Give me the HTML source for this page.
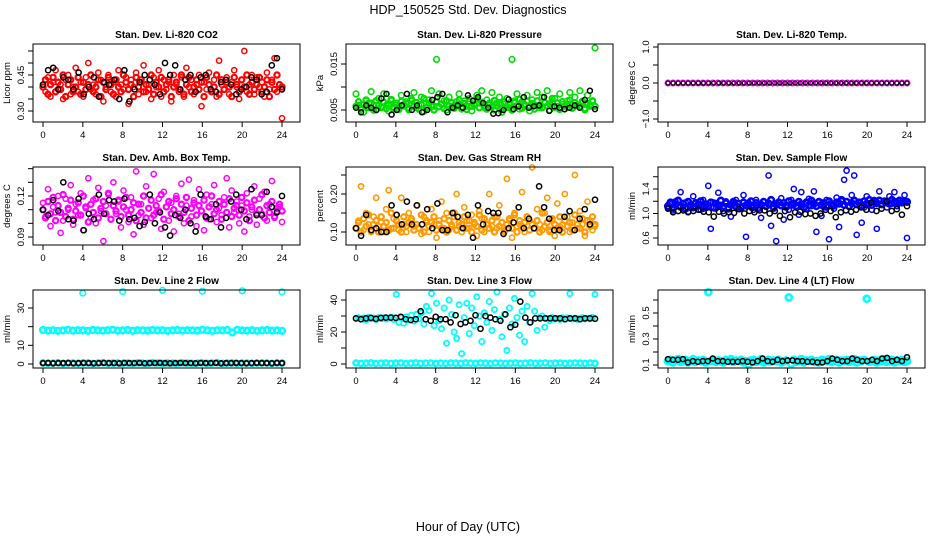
<!DOCTYPE html>
<html><head><meta charset="utf-8"><style>
html,body{margin:0;padding:0;background:#fff;}
svg{display:block;font-family:"Liberation Sans",Arial,sans-serif;}
</style></head><body>
<svg id="chart" width="936" height="540" viewBox="0 0 936 540" xmlns="http://www.w3.org/2000/svg">
<rect x="0" y="0" width="936" height="540" fill="#fff"/>
<text x="468" y="14" font-size="12.5" text-anchor="middle">HDP_150525  Std. Dev. Diagnostics</text>
<text x="468" y="531" font-size="12.5" text-anchor="middle">Hour of Day (UTC)</text>
</svg>
<script>
const xTicks = [0,4,8,12,16,20,24];
const xTickLabels = ["0","4","8","12","16","20","24"];

const co2Red = [0.40,0.38,0.44,0.36,0.42,0.47,0.39,0.41,0.35,0.43,0.45,0.37,0.40,0.48,0.38,0.42,0.36,0.44,0.50,0.39,0.41,0.37,0.46,0.43,0.34,0.40,0.45,0.38,0.42,0.36,0.47,0.41,0.39,0.44,0.33,0.43,0.40,0.46,0.37,0.42,0.49,0.38,0.41,0.35,0.44,0.40,0.47,0.36,0.43,0.39,0.42,0.34,0.45,0.41,0.38,0.44,0.36,0.48,0.40,0.43,0.37,0.41,0.45,0.32,0.42,0.39,0.46,0.38,0.43,0.36,0.51,0.41,0.39,0.44,0.37,0.42,0.47,0.40,0.35,0.43,0.55,0.38,0.41,0.45,0.37,0.44,0.40,0.42,0.36,0.46,0.39,0.43,0.52,0.38,0.41,0.27];
const co2RedDense = [0.40,0.43,0.37,0.41,0.44,0.38,0.42,0.39,0.45,0.36,0.41,0.43,0.38,0.40,0.44,0.37,0.42,0.39,0.41,0.45,0.38,0.40,0.43,0.36,0.42,0.39,0.44,0.41,0.37,0.43,0.40,0.38,0.45,0.42,0.39,0.41,0.36,0.44,0.40,0.43,0.38,0.41,0.39,0.45,0.37,0.42,0.40,0.44,0.38,0.41,0.43,0.36,0.40,0.42,0.39,0.45,0.37,0.41,0.44,0.38,0.40,0.43,0.39,0.42,0.36,0.44,0.41,0.38,0.40,0.45,0.37,0.43,0.39,0.42,0.40,0.36,0.44,0.41,0.38,0.43,0.40,0.45,0.37,0.42,0.39,0.41,0.44,0.38,0.40,0.43,0.36,0.42,0.39,0.45,0.41,0.40];
const co2Black = [0.41,0.47,0.48,0.39,0.44,0.43,0.39,0.46,0.37,0.40,0.44,0.36,0.42,0.41,0.43,0.35,0.47,0.34,0.39,0.42,0.45,0.43,0.41,0.37,0.50,0.45,0.49,0.39,0.43,0.45,0.38,0.44,0.45,0.39,0.38,0.42,0.43,0.41,0.37,0.39,0.40,0.44,0.43,0.37,0.38,0.49,0.52,0.39];

const presGreen = [0.0085,0.006,0.0055,0.0045,0.007,0.0065,0.009,0.006,0.005,0.0075,0.0055,0.0085,0.006,0.0048,0.007,0.0052,0.0065,0.0058,0.0082,0.0062,0.0068,0.005,0.0075,0.0088,0.0055,0.006,0.0078,0.0047,0.0065,0.0072,0.0092,0.0058,0.016,0.0085,0.0062,0.007,0.005,0.0078,0.0055,0.006,0.0068,0.0085,0.0052,0.007,0.0058,0.0075,0.0048,0.006,0.0082,0.0065,0.0092,0.0055,0.0072,0.006,0.0088,0.005,0.0065,0.0078,0.0045,0.0062,0.0075,0.0055,0.016,0.007,0.0085,0.0052,0.0068,0.0058,0.0082,0.0048,0.0072,0.006,0.0088,0.0055,0.0078,0.0065,0.0092,0.005,0.0068,0.0075,0.0058,0.0085,0.0062,0.0052,0.007,0.0088,0.0055,0.0078,0.006,0.0092,0.0065,0.005,0.0082,0.0058,0.0068,0.0185];
const presGreenDense = [0.0058,0.0068,0.0052,0.0062,0.0072,0.0055,0.0065,0.0050,0.0070,0.0060,0.0057,0.0067,0.0053,0.0063,0.0073,0.0056,0.0061,0.0051,0.0069,0.0059,0.0064,0.0054,0.0071,0.0058,0.0066,0.0052,0.0062,0.0075,0.0055,0.0065,0.0060,0.0050,0.0068,0.0057,0.0063,0.0053,0.0070,0.0059,0.0066,0.0054,0.0061,0.0072,0.0056,0.0064,0.0051,0.0069,0.0058,0.0062,0.0074,0.0055,0.0067,0.0060,0.0052,0.0065,0.0057,0.0071,0.0059,0.0063,0.0053,0.0068,0.0056,0.0061,0.0050,0.0066,0.0058,0.0073,0.0054,0.0062,0.0069,0.0057,0.0064,0.0052,0.0070,0.0060,0.0055,0.0067,0.0059,0.0063,0.0075,0.0056,0.0065,0.0051,0.0068,0.0058,0.0062,0.0072,0.0054,0.0066,0.0060,0.0057,0.0069,0.0053,0.0064,0.0061,0.0070,0.0058];
const presBlack = [0.0055,0.0045,0.006,0.0055,0.005,0.0075,0.0085,0.004,0.005,0.006,0.0085,0.005,0.006,0.0045,0.005,0.0072,0.0078,0.0085,0.0045,0.0055,0.006,0.0055,0.0082,0.007,0.0078,0.0065,0.0055,0.0042,0.0043,0.005,0.0073,0.0052,0.0058,0.0078,0.0055,0.0058,0.006,0.0078,0.0048,0.0058,0.0055,0.0052,0.0055,0.006,0.0055,0.0072,0.0092,0.0052];

const tempMagenta = [0,0,0,0,0,0,0,0,0,0,0,0,0,0,0,0,0,0,0,0,0,0,0,0,0,0,0,0,0,0,0,0,0,0,0,0,0,0,0,0,0,0,0,0,0,0,0,0,0];
const tempBlack = [0,0,0,0,0,0,0,0,0,0,0,0,0,0,0,0,0,0,0,0,0,0,0,0,0,0,0,0,0,0,0,0,0,0,0,0,0,0,0,0,0,0,0,0,0,0,0,0];

const ambMagenta = [0.115,0.105,0.125,0.098,0.112,0.108,0.120,0.093,0.102,0.118,0.110,0.128,0.099,0.114,0.106,0.122,0.095,0.111,0.133,0.104,0.117,0.100,0.126,0.109,0.087,0.113,0.121,0.103,0.130,0.107,0.116,0.097,0.124,0.110,0.101,0.119,0.092,0.138,0.106,0.114,0.099,0.127,0.111,0.104,0.136,0.108,0.118,0.096,0.123,0.112,0.102,0.115,0.094,0.120,0.107,0.129,0.100,0.113,0.132,0.105,0.117,0.098,0.125,0.109,0.095,0.121,0.103,0.114,0.128,0.101,0.111,0.106,0.119,0.133,0.097,0.124,0.108,0.116,0.100,0.113,0.094,0.122,0.105,0.110,0.127,0.099,0.118,0.107,0.123,0.102,0.114,0.131,0.104,0.109,0.112,0.101];
const ambMagentaDense = [0.110,0.104,0.116,0.107,0.119,0.102,0.113,0.108,0.121,0.105,0.111,0.117,0.103,0.109,0.115,0.106,0.120,0.112,0.101,0.114,0.108,0.118,0.104,0.111,0.116,0.107,0.122,0.103,0.113,0.109,0.117,0.105,0.112,0.119,0.106,0.110,0.115,0.102,0.114,0.108,0.120,0.104,0.111,0.117,0.106,0.113,0.109,0.121,0.103,0.112,0.116,0.107,0.110,0.118,0.105,0.114,0.108,0.119,0.102,0.111,0.115,0.106,0.113,0.109,0.117,0.104,0.112,0.120,0.107,0.110,0.116,0.103,0.114,0.108,0.118,0.105,0.111,0.113,0.106,0.119,0.109,0.115,0.102,0.112,0.117,0.107,0.110,0.121,0.104,0.113,0.108,0.116,0.105,0.111,0.114,0.109];
const ambBlack = [0.110,0.106,0.117,0.109,0.130,0.103,0.102,0.118,0.095,0.107,0.103,0.121,0.107,0.117,0.116,0.102,0.118,0.103,0.104,0.098,0.101,0.121,0.100,0.108,0.097,0.091,0.106,0.104,0.110,0.100,0.094,0.121,0.105,0.103,0.114,0.097,0.104,0.116,0.121,0.110,0.103,0.125,0.106,0.106,0.123,0.112,0.108,0.120];

const rhOrange = [0.11,0.13,0.22,0.105,0.15,0.12,0.10,0.14,0.19,0.115,0.125,0.10,0.16,0.21,0.11,0.135,0.145,0.105,0.19,0.12,0.10,0.15,0.13,0.115,0.17,0.11,0.095,0.14,0.125,0.10,0.16,0.12,0.085,0.13,0.18,0.11,0.15,0.105,0.12,0.14,0.20,0.115,0.10,0.165,0.13,0.11,0.145,0.12,0.09,0.155,0.135,0.10,0.12,0.20,0.115,0.14,0.11,0.17,0.125,0.10,0.24,0.13,0.085,0.15,0.115,0.12,0.205,0.10,0.14,0.13,0.27,0.11,0.16,0.12,0.105,0.15,0.19,0.10,0.13,0.09,0.175,0.115,0.12,0.20,0.14,0.10,0.125,0.25,0.11,0.155,0.12,0.09,0.18,0.13,0.105,0.115];
const rhOrangeDense = [0.11,0.125,0.10,0.135,0.115,0.145,0.105,0.12,0.13,0.10,0.14,0.115,0.125,0.105,0.15,0.11,0.13,0.12,0.10,0.14,0.115,0.125,0.135,0.105,0.12,0.11,0.145,0.10,0.13,0.115,0.125,0.14,0.105,0.12,0.11,0.135,0.10,0.13,0.115,0.15,0.105,0.125,0.12,0.14,0.11,0.13,0.10,0.125,0.115,0.145,0.105,0.135,0.12,0.11,0.13,0.10,0.14,0.115,0.125,0.105,0.12,0.135,0.11,0.145,0.10,0.13,0.115,0.125,0.14,0.105,0.12,0.11,0.13,0.10,0.15,0.115,0.125,0.105,0.135,0.12,0.11,0.14,0.10,0.13,0.115,0.125,0.105,0.145,0.12,0.11,0.135,0.10,0.13,0.115,0.14,0.12];
const rhBlack = [0.11,0.09,0.145,0.105,0.11,0.10,0.10,0.17,0.145,0.12,0.18,0.12,0.17,0.12,0.16,0.11,0.175,0.105,0.105,0.15,0.14,0.11,0.145,0.085,0.17,0.12,0.155,0.15,0.15,0.095,0.11,0.125,0.165,0.11,0.135,0.11,0.22,0.165,0.135,0.105,0.105,0.14,0.155,0.105,0.135,0.16,0.12,0.185];

const flowBlue = [1.10,1.15,1.05,1.20,1.12,1.35,1.08,1.18,1.02,1.14,1.28,1.10,1.16,1.06,1.22,1.12,1.45,0.75,1.18,1.08,1.34,1.14,1.04,1.20,1.10,0.95,1.16,1.22,1.08,1.12,1.30,0.62,1.18,1.10,1.06,1.22,1.14,0.93,1.20,1.12,1.62,0.80,1.08,0.55,1.18,1.25,0.90,1.14,1.06,1.22,1.40,1.10,0.98,1.35,1.16,1.08,1.24,1.12,1.36,0.70,1.18,0.96,1.10,1.22,0.58,1.14,1.08,1.26,0.78,1.20,1.55,1.70,1.12,1.30,1.62,0.65,1.18,0.85,1.10,1.28,1.16,1.06,1.22,0.75,1.36,1.14,1.20,1.10,1.28,1.16,1.35,1.12,1.22,1.18,1.30,0.60];
const flowBlueBand = [1.12,1.18,1.09,1.15,1.21,1.11,1.16,1.08,1.19,1.13,1.10,1.17,1.14,1.20,1.09,1.15,1.12,1.18,1.10,1.16,1.13,1.21,1.11,1.17,1.08,1.14,1.19,1.12,1.16,1.10,1.18,1.13,1.15,1.20,1.11,1.17,1.09,1.14,1.19,1.12,1.16,1.22,1.10,1.15,1.18,1.13,1.17,1.11,1.20,1.14,1.16,1.12,1.19,1.15,1.10,1.18,1.13,1.21,1.16,1.12,1.19,1.14,1.17,1.11,1.20,1.15,1.13,1.18,1.16,1.22,1.14,1.19,1.12,1.17,1.21,1.15,1.18,1.13,1.20,1.16,1.22,1.14,1.19,1.17,1.21,1.15,1.20,1.18,1.16,1.22,1.19,1.17,1.21,1.18,1.20,1.19];
const flowBlack = [1.08,1.02,1.04,1.05,1.03,1.04,1.06,1.03,1.02,0.95,1.03,1.00,1.02,1.01,1.07,1.00,1.04,1.02,1.05,1.05,1.00,1.04,0.96,1.04,0.94,1.02,1.03,0.99,1.00,0.96,1.00,1.06,1.04,0.94,1.02,1.05,1.03,1.06,1.10,1.06,1.18,1.04,1.08,1.20,1.04,1.07,0.98,1.12];

const line2Cyan = [18.2,17.9,18.1,17.8,18.0,18.3,17.9,18.1,18.0,17.8,18.2,18.0,17.9,18.1,18.3,17.9,18.0,18.2,17.8,18.1,18.0,17.9,18.2,18.0,18.1,17.8,18.0,18.2,17.9,18.1,18.0,17.9,18.3,18.0,17.8,18.1,18.0,18.2,16.9,18.3,18.0,17.9,18.1,17.8,18.0,18.2,17.9,18.0,17.8];
const line2CyanLow = [0.6,0.4,0.5,0.7,0.3,0.5,0.6,0.4,0.5,0.6,0.3,0.5,0.7,0.4,0.5,0.6,0.4,0.5,0.3,0.6,0.5,0.4,0.7,0.5,0.4,0.6,0.5,0.3,0.6,0.5,0.4,0.5,0.6,0.4,0.5,0.7,0.4,0.5,0.6,0.3,0.5,0.6,0.4,0.5,0.6,0.5,0.4,0.6,0.5];
const line2Black = [0.5,0.6,0.4,0.5,0.5,0.6,0.4,0.5,0.6,0.5,0.4,0.5,0.6,0.5,0.5,0.4,0.6,0.5,0.5,0.6,0.4,0.5,0.5,0.6,0.5,0.4,0.5,0.6,0.5,0.5,0.4,0.6,0.5,0.5,0.6,0.4,0.5,0.5,0.6,0.5,0.4,0.5,0.6,0.5,0.5,0.4,0.6,0.5];
const line2OutlierHours = [4,8,12,16,20,24];
const line2OutlierValues = [38.0,38.8,39.5,39.0,39.2,38.6];

const line3Cyan = [28.5,29,28,28.8,27.5,29.2,28.3,28.7,27.8,29,28.4,28.9,28.1,28.6,29.3,27.9,43.5,26,28.8,25.5,29.5,27.6,30.5,26.8,31,28.2,32,25,36,33.5,44,24,38,27,22,35,13,40,31,20,16,37,6.5,29,38,19,35,24,42,30,14,32,26,39,21,34,45,28,17,31,8.5,35,25,41,29,18,33,14,36,26,44,33,21,29,30,23,28.5,27,29,28,28.6,27.8,29,28.3,28.8,44,28.1,28.7,27.9,28.5,29,28.2,28.6,28.4,29.1,43.5];
const line3CyanLow = [0.6,0.4,0.5,0.7,0.3,0.5,0.6,0.4,0.5,0.6,0.3,0.5,0.7,0.4,0.5,0.6,0.4,0.5,0.3,0.6,0.5,0.4,0.7,0.5,0.4,0.6,0.5,0.3,0.6,0.5,0.4,0.5,0.6,0.4,0.5,0.7,0.4,0.5,0.6,0.3,0.5,0.6,0.4,0.5,0.6,0.5,0.4,0.6,0.5];
const line3Black = [28.5,28,28.5,28.8,28.2,28.8,29,29,28.8,29.5,28,27.5,28,33,28,27,29.5,28,28,26,30.5,25,26,27,30.5,22,30,29,28,27,31,23,24.5,39,29,26,28.5,28.5,28.5,28.5,28.5,28.5,28,28.5,28.5,28,28.5,28.5,28.3];

const line4Cyan = [0.13,0.14,0.12,0.135,0.145,0.125,0.13,0.14,0.12,0.13,0.145,0.125,0.135,0.13,0.14,0.12,0.66,0.13,0.14,0.125,0.135,0.13,0.12,0.14,0.13,0.145,0.125,0.135,0.13,0.14,0.12,0.13,0.105,0.135,0.14,0.125,0.13,0.145,0.12,0.13,0.14,0.125,0.135,0.13,0.14,0.12,0.13,0.135,0.62,0.11,0.14,0.125,0.13,0.145,0.12,0.135,0.13,0.14,0.125,0.13,0.12,0.14,0.135,0.13,0.145,0.125,0.13,0.14,0.12,0.135,0.13,0.14,0.125,0.13,0.145,0.12,0.135,0.13,0.14,0.61,0.125,0.13,0.14,0.12,0.135,0.13,0.145,0.125,0.13,0.14,0.12,0.135,0.13,0.14,0.125,0.13];
const line4Black = [0.145,0.14,0.14,0.145,0.12,0.13,0.125,0.13,0.13,0.15,0.13,0.13,0.125,0.125,0.125,0.13,0.125,0.12,0.13,0.15,0.13,0.125,0.14,0.13,0.135,0.135,0.13,0.13,0.125,0.125,0.12,0.12,0.13,0.15,0.14,0.13,0.13,0.15,0.14,0.13,0.13,0.14,0.13,0.15,0.155,0.13,0.14,0.13,0.16];

const NS = "http://www.w3.org/2000/svg";
const svg = document.getElementById('chart');
function mk(tag, attrs, parent){
  const e = document.createElementNS(NS, tag);
  for (const k in attrs) e.setAttribute(k, attrs[k]);
  (parent||svg).appendChild(e);
  return e;
}
const colX = [33, 346, 658], rowY = [44, 167, 290], W = 267, H = 78;

const panels = [
 {key:'co2', title:'Stan. Dev. Li-820 CO2', ylab:'Licor ppm', c:0, r:0, ref:[0.30,111,0.45,75],
  ticks:[0.30,0.35,0.40,0.45,0.50,0.55], labels:['0.30','','','0.45','',''],
  series:[{d:co2RedDense,col:'#ff0000',rr:2.6,sw:2.2},{d:co2Red,col:'#ff0000',rr:2.6,sw:1.5},{d:co2Black,col:'#000',rr:2.6,sw:1.5}]},
 {key:'pressure', title:'Stan. Dev. Li-820 Pressure', ylab:'kPa', c:1, r:0, ref:[0.005,110,0.015,64],
  ticks:[0.005,0.010,0.015], labels:['0.005','','0.015'],
  series:[{d:presGreenDense,col:'#00dd00',rr:2.6,sw:2.2},{d:presGreen,col:'#00dd00',rr:2.8,sw:1.6},{d:presBlack,col:'#000',rr:2.5,sw:1.5}]},
 {key:'temp', title:'Stan. Dev. Li-820 Temp.', ylab:'degrees C', c:2, r:0, ref:[0,83,1,47],
  ticks:[-1,-0.5,0,0.5,1], labels:['\u22121.0','','0.0','','1.0'],
  series:[{d:tempMagenta,col:'#ff00ff',rr:2.5,sw:2},{d:tempBlack,col:'#000',rr:2,sw:1.2}]},
 {key:'ambbox', title:'Stan. Dev. Amb. Box Temp.', ylab:'degrees C', c:0, r:1, ref:[0.09,237,0.12,196],
  ticks:[0.09,0.10,0.11,0.12,0.13,0.14], labels:['0.09','','','0.12','',''],
  series:[{d:ambMagentaDense,col:'#ff00ff',rr:2.6,sw:2.2},{d:ambMagenta,col:'#ff00ff',rr:2.6,sw:1.5},{d:ambBlack,col:'#000',rr:2.6,sw:1.5}]},
 {key:'rh', title:'Stan. Dev. Gas Stream RH', ylab:'percent', c:1, r:1, ref:[0.10,232,0.20,194],
  ticks:[0.10,0.15,0.20,0.25], labels:['0.10','','0.20',''],
  series:[{d:rhOrangeDense,col:'#ff9a00',rr:2.6,sw:2.2},{d:rhOrange,col:'#ff9a00',rr:2.6,sw:1.6},{d:rhBlack,col:'#000',rr:2.6,sw:1.5}]},
 {key:'sampleflow', title:'Stan. Dev. Sample Flow', ylab:'ml/min', c:2, r:1, ref:[0.6,238,1.4,189],
  ticks:[0.6,0.8,1.0,1.2,1.4,1.6], labels:['0.6','','1.0','','1.4',''],
  series:[{d:flowBlueBand,col:'#0000ff',rr:2.8,sw:2.6},{d:flowBlue,col:'#0000ff',rr:2.6,sw:1.5},{d:flowBlack,col:'#000',rr:2.6,sw:1.5}]},
 {key:'line2', title:'Stan. Dev. Line 2 Flow', ylab:'ml/min', c:0, r:2, ref:[0,364,30,308],
  ticks:[0,10,20,30], labels:['0','10','','30'],
  series:[{d:line2Cyan,col:'#00ffff',rr:2.8,sw:2.6},{d:line2CyanLow,col:'#00ffff',rr:2.6,sw:2.4},{d:line2Black,col:'#000',rr:2.4,sw:1.8},
          {h:line2OutlierHours,d:line2OutlierValues,col:'#00ffff',rr:2.8,sw:1.6}]},
 {key:'line3', title:'Stan. Dev. Line 3 Flow', ylab:'ml/min', c:1, r:2, ref:[0,364,40,300],
  ticks:[0,10,20,30,40], labels:['0','','20','','40'],
  series:[{d:line3Cyan,col:'#00ffff',rr:2.6,sw:1.8},{d:line3CyanLow,col:'#00ffff',rr:2.6,sw:2.4},{d:line3Black,col:'#000',rr:2.6,sw:1.5}]},
 {key:'line4', title:'Stan. Dev. Line 4 (LT) Flow', ylab:'ml/min', c:2, r:2, ref:[0.1,365,0.5,313],
  ticks:[0.1,0.2,0.3,0.4,0.5,0.6], labels:['0.1','','0.3','','0.5',''],
  series:[{d:line4Cyan,col:'#00ffff',rr:3,sw:2.6},{d:line4Black,col:'#000',rr:2.5,sw:1.5}]}
];

panels.forEach(p => {
  const bx = colX[p.c], by = rowY[p.r];
  const g = mk('g', {});
  
  
  const xs = h => bx + 10 + h * (239 / 24);
  const [v1,p1,v2,p2] = p.ref;
  const ys = v => p1 + (v - v1) * (p2 - p1) / (v2 - v1);

  const t = mk('text', {x: bx + W/2, y: by - 6, 'font-size': 10, 'font-weight': 'bold', 'text-anchor': 'middle'}, g);
  t.textContent = p.title;
  
  

  const yl = mk('text', {x: 0, y: 0, 'font-size': 9.5, 'text-anchor': 'middle', transform: `translate(${bx-23},${by+H/2}) rotate(-90)`}, g);
  yl.textContent = p.ylab;
  
  

  const mg = mk('g', {fill: 'none'}, g);
  
  
  p.series.forEach((s) => {
    s.d.forEach((v, i) => {
      const h = s.h ? s.h[i] : i * 24 / (s.d.length - 1);
      const c = mk('circle', {cx: xs(h).toFixed(1), cy: ys(v).toFixed(1), r: s.rr, stroke: s.col, 'stroke-width': s.sw}, mg);
      
      
    });
  });

  const box = mk('rect', {x: bx, y: by, width: W, height: H, fill: 'none', stroke: '#000', 'stroke-width': 1}, g);
  
  

  const xa = mk('g', {}, g);
  
  
  xTicks.forEach((tv, i) => {
    const x = xs(tv);
    mk('line', {x1: x, x2: x, y1: by + H, y2: by + H + 5, stroke: '#000'}, xa);
    const tl = mk('text', {x: x, y: by + H + 16, 'font-size': 9.5, 'text-anchor': 'middle'}, xa);
    tl.textContent = xTickLabels[i];
    
    
  });
  const ya = mk('g', {}, g);
  
  
  p.ticks.forEach((tv, i) => {
    const y = ys(tv);
    mk('line', {x1: bx - 5, x2: bx, y1: y, y2: y, stroke: '#000'}, ya);
    if (p.labels[i]) {
      const tl = mk('text', {x: 0, y: 0, 'font-size': 9.5, 'text-anchor': 'middle', transform: `translate(${bx-9},${y}) rotate(-90)`}, ya);
      tl.textContent = p.labels[i];
      
      
    }
  });
});
</script>
</body></html>
